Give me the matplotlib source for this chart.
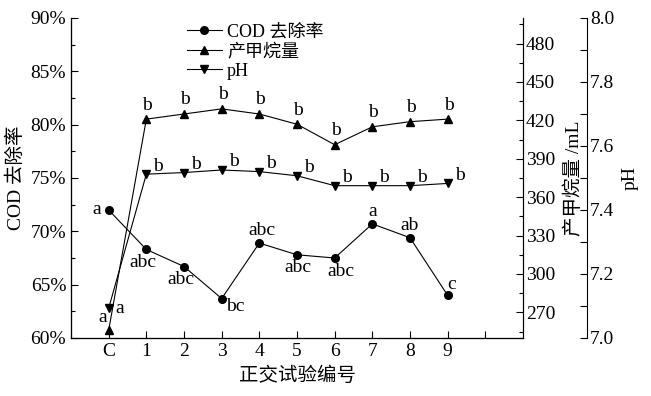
import numpy as np
import matplotlib
matplotlib.use("Agg")
import matplotlib.pyplot as plt
from matplotlib.ticker import MultipleLocator, FuncFormatter

plt.rcParams["font.family"] = ["Liberation Serif", "Noto Sans CJK SC"]
plt.rcParams["axes.unicode_minus"] = False

# datos
grupos = ["C", "1", "2", "3", "4", "5", "6", "7", "8", "9"]
cod = [72.0, 68.3, 66.7, 63.7, 68.9, 67.8, 67.5, 70.7, 69.4, 64.0]
metano = [256, 421, 425, 429, 425, 417, 401, 415, 419, 421]
ph = [7.093, 7.512, 7.517, 7.525, 7.520, 7.507, 7.476, 7.476, 7.476, 7.483]
letras_cod = ["a", "abc", "abc", "bc", "abc", "abc", "abc", "a", "ab", "c"]
letras_met = ["a"] + ["b"] * 9
letras_ph = ["a"] + ["b"] * 9

# offsets de las letras (pixeles)
off_cod = [(-12, 0), (-3, -13), (-3, -13), (14, -8), (3, 13), (1, -13), (6, -14), (0, 12), (0, 12), (4, 11)]
off_met = [(-6, 13)] + [(1, 14)] * 9
off_ph = [(11, 0)] + [(12, 8)] * 9

x = np.arange(1, len(grupos) + 1)
FS = 14

fig = plt.figure(figsize=(6.51, 3.96), dpi=100)
ax = fig.add_axes([71 / 651, 1 - 338 / 396, 452 / 651, 320 / 396])
ax2 = ax.twinx()
ax3 = ax.twinx()

kw = dict(color="black", lw=0.8, ms=5.5)
l1, = ax.plot(x, cod, marker="o", label="COD 去除率", **kw)
l2, = ax2.plot(x, metano, marker="^", label="产甲烷量", **kw)
l3, = ax3.plot(x, ph, marker="v", label="pH", **kw)

for xi, yi, t, o in zip(x, cod, letras_cod, off_cod):
    ax.annotate(t, (xi, yi), xytext=o, textcoords="offset pixels", ha="center", va="center", fontsize=14)
for xi, yi, t, o in zip(x, metano, letras_met, off_met):
    ax2.annotate(t, (xi, yi), xytext=o, textcoords="offset pixels", ha="center", va="center", fontsize=14)
for xi, yi, t, o in zip(x, ph, letras_ph, off_ph):
    ax3.annotate(t, (xi, yi), xytext=o, textcoords="offset pixels", ha="center", va="center", fontsize=14)

# eje principal
ax.set_xlim(0, 12)
ax.set_xticks(list(x) + [11])
ax.set_xticklabels(grupos + [""], fontsize=FS)
ax.set_ylim(60, 90)
ax.yaxis.set_major_locator(MultipleLocator(5))
ax.yaxis.set_minor_locator(MultipleLocator(2.5))
ax.yaxis.set_major_formatter(FuncFormatter(lambda v, p: f"{v:.0f}%"))
ax.tick_params(axis="both", direction="in", labelsize=FS, length=5, width=0.8)
ax.tick_params(axis="y", which="minor", direction="in", length=3, width=0.8)
ax.set_ylabel("COD 去除率", fontsize=FS, labelpad=4)
ax.set_xlabel("正交试验编号", fontsize=FS, labelpad=5)
ax.spines["top"].set_visible(False)

# metano
ax2.set_ylim(250, 500)
ax2.set_yticks(np.arange(270, 481, 30))
ax2.yaxis.set_minor_locator(MultipleLocator(15))
ax2.tick_params(axis="y", direction="in", labelsize=FS, length=5, width=0.8, pad=2)
ax2.tick_params(axis="y", which="minor", direction="in", length=3, width=0.8)
ax2.spines["top"].set_visible(False)
ax2.set_ylabel("产甲烷量 /mL", fontsize=FS)
ax2.yaxis.set_label_coords((564 - 71) / 452, 0.5)

# pH
ax3.spines["right"].set_position(("axes", (587 - 71) / 452))
ax3.set_ylim(7.0, 8.0)
ax3.yaxis.set_major_locator(MultipleLocator(0.2))
ax3.yaxis.set_minor_locator(MultipleLocator(0.1))
ax3.yaxis.set_major_formatter(FuncFormatter(lambda v, p: f"{v:.1f}"))
ax3.tick_params(axis="y", direction="in", labelsize=FS, length=5, width=0.8, pad=2)
ax3.tick_params(axis="y", which="minor", direction="in", length=5, width=0.8)
ax3.spines["top"].set_visible(False)
ax3.set_ylabel("pH", fontsize=FS)
ax3.yaxis.set_label_coords((622 - 71) / 452, 0.5)

for a in (ax, ax2, ax3):
    for sp in a.spines.values():
        sp.set_linewidth(0.8)

fig.legend([l1, l2, l3], ["COD 去除率", "产甲烷量", "pH"], loc="upper left",
           bbox_to_anchor=(180 / 651, 1 - 16 / 396), frameon=False, fontsize=13,
           handlelength=1.9, labelspacing=0.15, handletextpad=0.3, borderaxespad=0)

fig.savefig("out.png", dpi=100, facecolor="white")
